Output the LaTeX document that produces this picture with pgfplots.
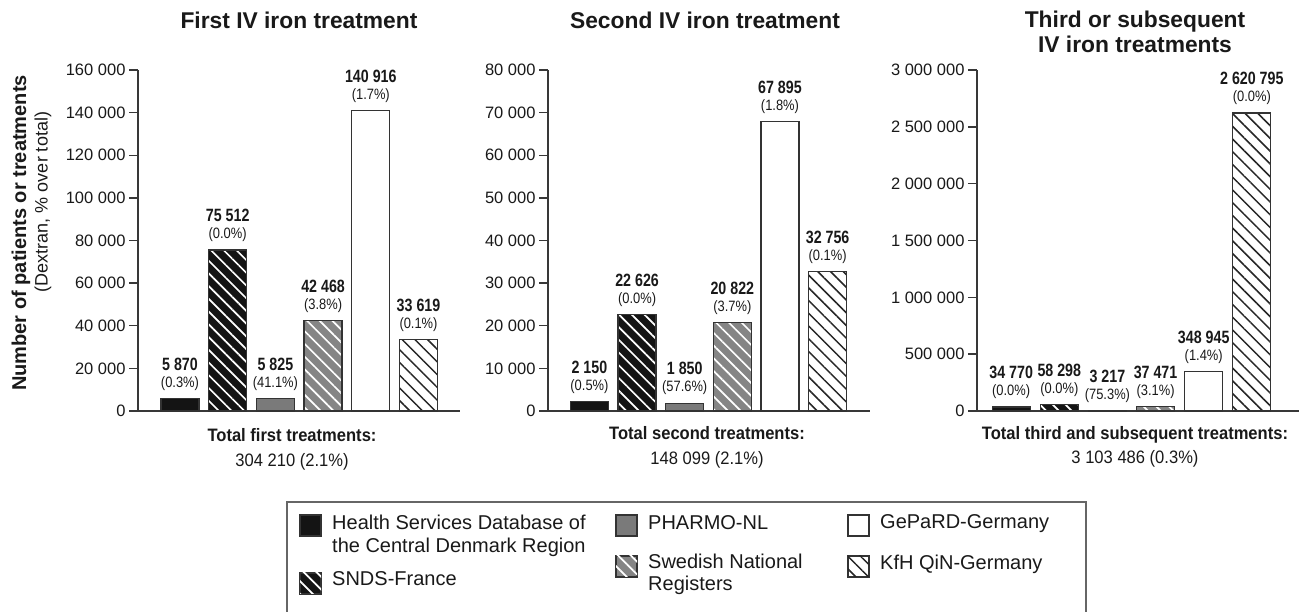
\documentclass[border=0pt]{standalone}
\usepackage{pgfplots}
\pgfplotsset{compat=1.18}
\usetikzlibrary{patterns.meta}
\usepackage{fontspec}
\setmainfont{Liberation Sans}
\newfontfamily\narrow[FakeStretch=0.80]{Liberation Sans}
\newfontfamily\pctf[FakeStretch=0.86]{Liberation Sans}
\newfontfamily\semi[FakeStretch=0.92]{Liberation Sans}

\newcommand\lbl[2]{{\narrow\bfseries\fontsize{17.8}{17}\selectfont #1}\\(#2\%)}

\tikzset{
 hsd/.style={fill=black!92, draw=black!80, line width=1.2pt},
 snds/.style={fill=black!92, draw=black!80, line width=1.2pt,
   postaction={pattern={Lines[angle=-45,distance=9pt,line width=1.7pt]}, pattern color=white}},
 pharmo/.style={fill=black!52, draw=black!80, line width=1.2pt},
 swed/.style={fill=black!48, draw=black!80, line width=1.2pt,
   postaction={pattern={Lines[angle=-45,distance=9pt,line width=1.7pt]}, pattern color=white}},
 gepard/.style={fill=white, draw=black!80, line width=1.2pt},
 kfh/.style={fill=white, draw=black!80, line width=1.2pt,
   postaction={pattern={Lines[angle=-45,distance=9pt,line width=1.5pt]}, pattern color=black!85}},
}

\pgfplotsset{
 panel/.style={
  scale only axis, width=322pt, height=341pt, anchor=south west,
  ymin=0, axis x line=bottom, axis y line=left,
  axis line style={-, line width=1.4pt, draw=black!78},
  xtick=\empty, tick align=outside, major tick length=9pt,
  ytick style={line width=1.4pt, draw=black!78},
  yticklabel style={font=\fontsize{16.5}{16.5}\selectfont, text=black!90,
    /pgf/number format/fixed, /pgf/number format/precision=0,
    /pgf/number format/1000 sep={\ }, /pgf/number format/assume math mode=true},
  scaled y ticks=false, clip=false,
  every node near coord/.append style={align=center, anchor=south, inner sep=0pt, yshift=7.5pt,
    text=black!90, font=\pctf\fontsize{15}{17}\selectfont},
 },
 mybar/.style={ybar, bar width=38pt, bar shift=0pt},
}

\begin{document}
\begin{tikzpicture}[x=1pt,y=1pt]
\useasboundingbox (0,0) rectangle (1299,612);

% ---------- Panel 1 ----------
\begin{axis}[panel, at={(138pt,201pt)}, xmin=-0.88, xmax=5.87, ymax=160000,
  ytick={0,20000,40000,60000,80000,100000,120000,140000,160000}]
\addplot[mybar, hsd, nodes near coords={\lbl{5 870}{0.3}}] coordinates {(0,5870)};
\addplot[mybar, snds, nodes near coords={\lbl{75 512}{0.0}}] coordinates {(1,75512)};
\addplot[mybar, pharmo, nodes near coords={\lbl{5 825}{41.1}}] coordinates {(2,5825)};
\addplot[mybar, swed, nodes near coords={\lbl{42 468}{3.8}}] coordinates {(3,42468)};
\addplot[mybar, gepard, nodes near coords={\lbl{140 916}{1.7}}] coordinates {(4,140916)};
\addplot[mybar, kfh, nodes near coords={\lbl{33 619}{0.1}}] coordinates {(5,33619)};
\end{axis}

% ---------- Panel 2 ----------
\begin{axis}[panel, at={(548pt,201pt)}, xmin=-0.87, xmax=5.89, ymax=80000,
  ytick={0,10000,20000,30000,40000,50000,60000,70000,80000}]
\addplot[mybar, hsd, nodes near coords={\lbl{2 150}{0.5}}] coordinates {(0,2150)};
\addplot[mybar, snds, nodes near coords={\lbl{22 626}{0.0}}] coordinates {(1,22626)};
\addplot[mybar, pharmo, nodes near coords={\lbl{1 850}{57.6}}] coordinates {(2,1850)};
\addplot[mybar, swed, nodes near coords={\lbl{20 822}{3.7}}] coordinates {(3,20822)};
\addplot[mybar, gepard, nodes near coords={\lbl{67 895}{1.8}}] coordinates {(4,67895)};
\addplot[mybar, kfh, nodes near coords={\lbl{32 756}{0.1}}] coordinates {(5,32756)};
\end{axis}

% ---------- Panel 3 ----------
\begin{axis}[panel, at={(977pt,201pt)}, xmin=-0.71, xmax=5.98, ymax=3000000,
  ytick={0,500000,1000000,1500000,2000000,2500000,3000000}]
\addplot[mybar, hsd, nodes near coords={\lbl{34 770}{0.0}}] coordinates {(0,34770)};
\addplot[mybar, snds, nodes near coords={\lbl{58 298}{0.0}}] coordinates {(1,58298)};
\addplot[mybar, pharmo, nodes near coords={\lbl{3 217}{75.3}}] coordinates {(2,3217)};
\addplot[mybar, swed, nodes near coords={\lbl{37 471}{3.1}}] coordinates {(3,37471)};
\addplot[mybar, gepard, nodes near coords={\lbl{348 945}{1.4}}] coordinates {(4,348945)};
\addplot[mybar, kfh, nodes near coords={\lbl{2 620 795}{0.0}}] coordinates {(5,2620795)};
\end{axis}

% ---------- Titles ----------
\node[font=\bfseries\fontsize{22.8}{25}\selectfont, text=black!90] at (299,592) {First IV iron treatment};
\node[font=\bfseries\fontsize{22.8}{25}\selectfont, text=black!90] at (705,592) {Second IV iron treatment};
\node[font=\bfseries\fontsize{22.8}{25}\selectfont, text=black!90, align=center] at (1135,580) {Third or subsequent\\IV iron treatments};

% ---------- Totals ----------
\node[font=\semi\bfseries\fontsize{18}{20}\selectfont, text=black!90] at (292,177) {Total first treatments:};
\node[font=\semi\fontsize{18}{20}\selectfont, text=black!90] at (292,150) {304 210 (2.1\%)};
\node[font=\semi\bfseries\fontsize{18}{20}\selectfont, text=black!90] at (707,179) {Total second treatments:};
\node[font=\semi\fontsize{18}{20}\selectfont, text=black!90] at (707,152) {148 099 (2.1\%)};
\node[font=\semi\bfseries\fontsize{18}{20}\selectfont, text=black!90] at (1135,177) {Total third and subsequent treatments:};
\node[font=\semi\fontsize{18}{20}\selectfont, text=black!90] at (1135,153) {3 103 486 (0.3\%)};

% ---------- Y label ----------
\node[rotate=90, font=\bfseries\fontsize{20}{22}\selectfont, text=black!90] at (21,379) {Number of patients or treatments};
\node[rotate=90, font=\fontsize{18}{20}\selectfont, text=black!90] at (43,410) {(Dextran, \% over total)};

% ---------- Legend ----------
\draw[draw=black!60, line width=1.3pt] (287,-3) rectangle (1086,110);
\path[hsd]    (300,76) rectangle (321,97);
\path[snds]   (300,18) rectangle (321,39);
\path[pharmo] (616,76) rectangle (637,97);
\path[swed]   (616,35) rectangle (637,56);
\path[gepard] (848,76) rectangle (869,97);
\path[kfh]    (848,35) rectangle (869,56);
\begin{scope}[every node/.style={anchor=mid west, inner sep=0pt, font=\fontsize{20}{22}\selectfont, text=black!90}]
\node at (332,85) {Health Services Database of};
\node at (332,62) {the Central Denmark Region};
\node at (332,29) {SNDS-France};
\node at (648,85) {PHARMO-NL};
\node at (648,46) {Swedish National};
\node at (648,24) {Registers};
\node at (880,86) {GePaRD-Germany};
\node at (880,45) {KfH QiN-Germany};
\end{scope}
\end{tikzpicture}
\end{document}
